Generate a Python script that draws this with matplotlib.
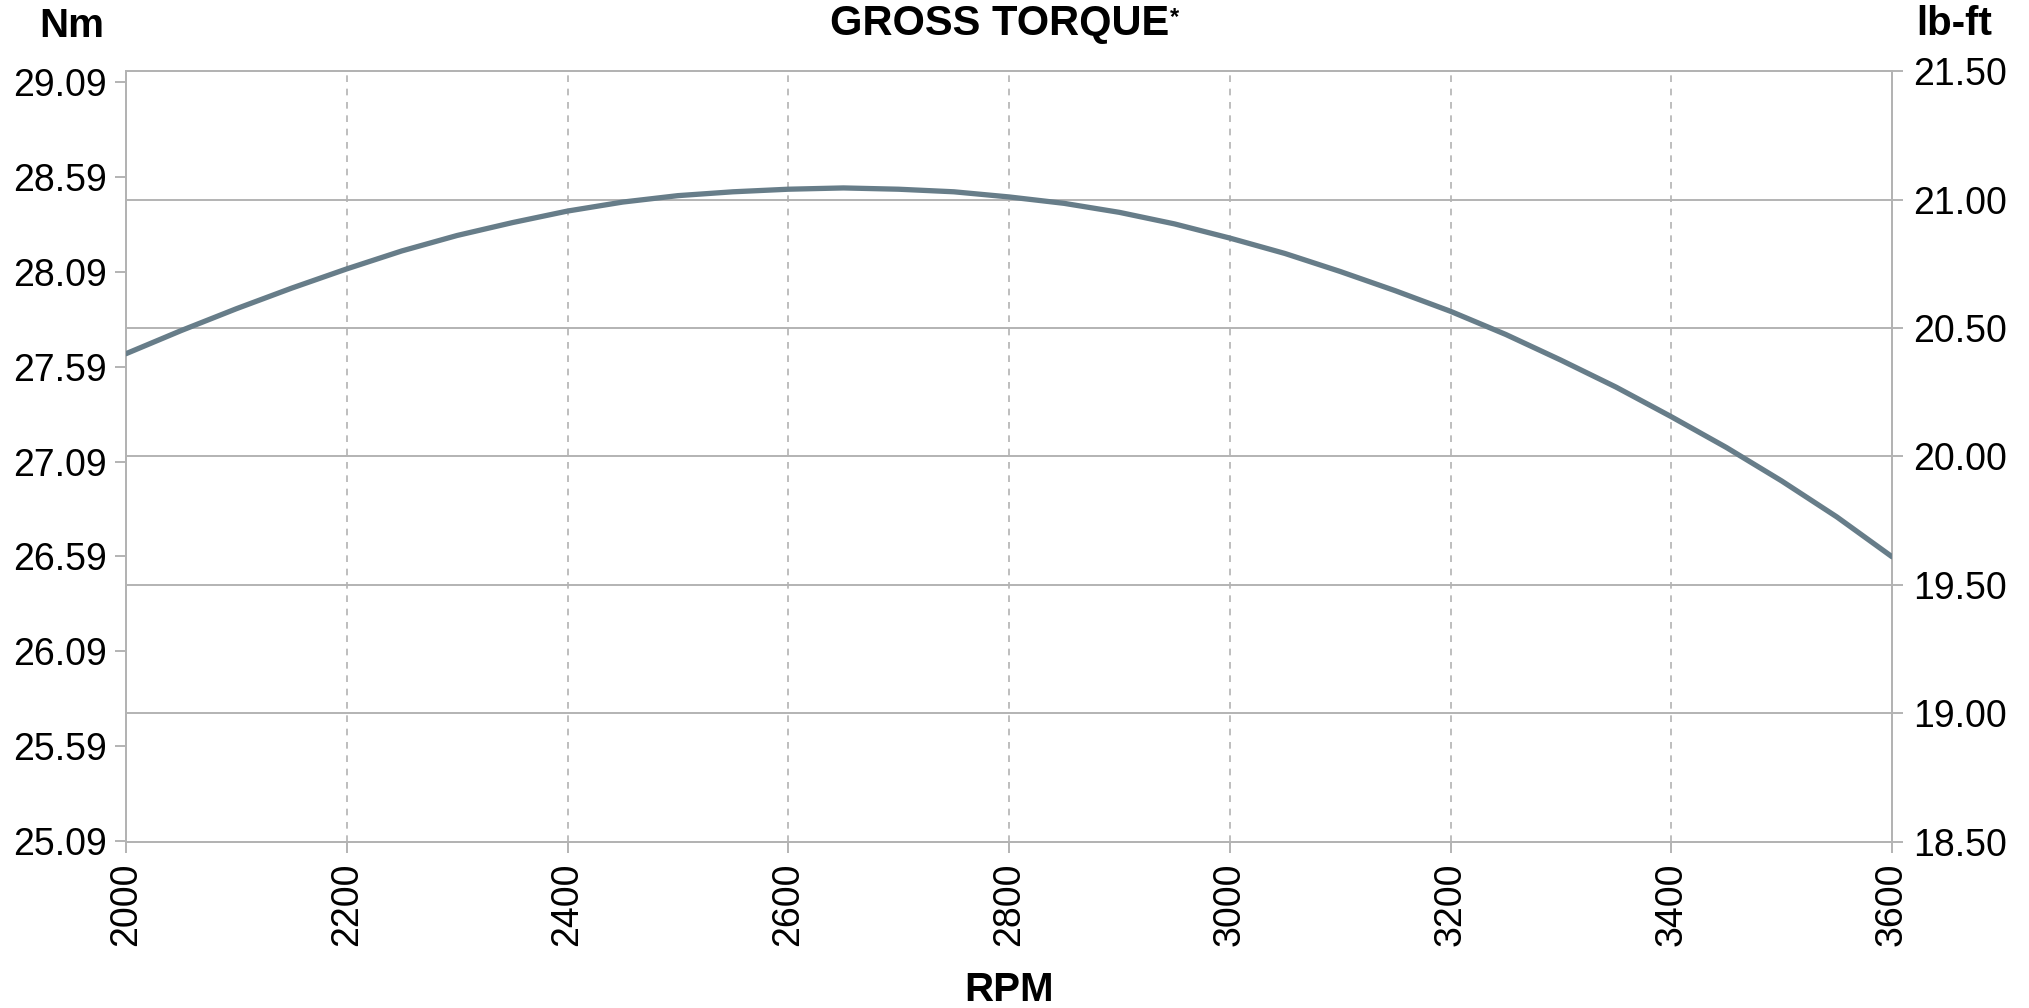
import matplotlib
matplotlib.use('Agg')
import matplotlib.pyplot as plt
import numpy as np

plt.rcParams['font.family'] = ['Liberation Sans', 'DejaVu Sans']

# curve, in lb-ft
rpm = [2000, 2050, 2100, 2150, 2200, 2250, 2300, 2350, 2400, 2450, 2500,
       2550, 2600, 2650, 2700, 2750, 2800, 2850, 2900, 2950, 3000, 3050,
       3100, 3150, 3200, 3250, 3300, 3350, 3400, 3450, 3500, 3550, 3600]
torque_lbft = [20.40, 20.49, 20.575, 20.655, 20.73, 20.80, 20.86, 20.91, 20.955, 20.99, 21.015,
               21.03, 21.04, 21.045, 21.04, 21.03, 21.01, 20.985, 20.95, 20.905, 20.85, 20.79,
               20.72, 20.645, 20.565, 20.475, 20.375, 20.27, 20.155, 20.035, 19.905, 19.765, 19.61]

x_ticks = [2000, 2200, 2400, 2600, 2800, 3000, 3200, 3400, 3600]
nm_ticks = [25.09, 25.59, 26.09, 26.59, 27.09, 27.59, 28.09, 28.59, 29.09]
lbft_ticks = [18.50, 19.00, 19.50, 20.00, 20.50, 21.00, 21.50]
NM_PER_LBFT = 1.35582

grid_col = '#b3b3b3'
line_col = '#677d89'

fig = plt.figure(figsize=(20.29, 10.08), dpi=100)
ax = fig.add_axes([126 / 2029, 1 - 842 / 1008, (1892 - 126) / 2029, (842 - 71) / 1008])
ax2 = ax.twinx()

ax.set_xlim(2000, 3600)
ax2.set_ylim(lbft_ticks[0], lbft_ticks[-1])
ax.set_ylim(lbft_ticks[0] * NM_PER_LBFT, lbft_ticks[-1] * NM_PER_LBFT)

ax2.plot(rpm, torque_lbft, color=line_col, lw=3.8, solid_capstyle='round',
         solid_joinstyle='round', zorder=5)

ax.set_xticks(x_ticks)
ax.set_xticklabels([str(v) for v in x_ticks], rotation=90)
ax.set_yticks(nm_ticks)
ax.set_yticklabels(['%.2f' % v for v in nm_ticks])
ax2.set_yticks(lbft_ticks)
ax2.set_yticklabels(['%.2f' % v for v in lbft_ticks])

ax.xaxis.grid(True, color=grid_col, ls=(0, (4, 4)), lw=1.2)
ax2.yaxis.grid(True, color=grid_col, ls='-', lw=1.4)
ax.set_axisbelow(True)

for a in (ax, ax2):
    for s in a.spines.values():
        s.set_color(grid_col)
        s.set_linewidth(1.4)
    a.tick_params(colors=grid_col, labelcolor='black', labelsize=27, width=1.4, length=8)
ax.tick_params(axis='x', pad=7)
ax.tick_params(axis='y', pad=6)
ax2.tick_params(axis='y', pad=7)

title = fig.text(1000 / 2029, 1 - 24 / 1008, 'GROSS TORQUE', ha='center', va='center',
                 fontsize=30, fontweight='bold')
fig.canvas.draw()
ax.annotate('*', xy=(1, 0.95), xycoords=title, ha='left', va='top',
            fontsize=17, fontweight='bold')

fig.text(72 / 2029, 1 - 26 / 1008, 'Nm', ha='center', va='center', fontsize=29, fontweight='bold')
fig.text(1954 / 2029, 1 - 24 / 1008, 'lb-ft', ha='center', va='center', fontsize=29, fontweight='bold')
fig.text(1009 / 2029, 1 - 990 / 1008, 'RPM', ha='center', va='center', fontsize=29, fontweight='bold')

fig.savefig('out.png', dpi=100, facecolor='white')
